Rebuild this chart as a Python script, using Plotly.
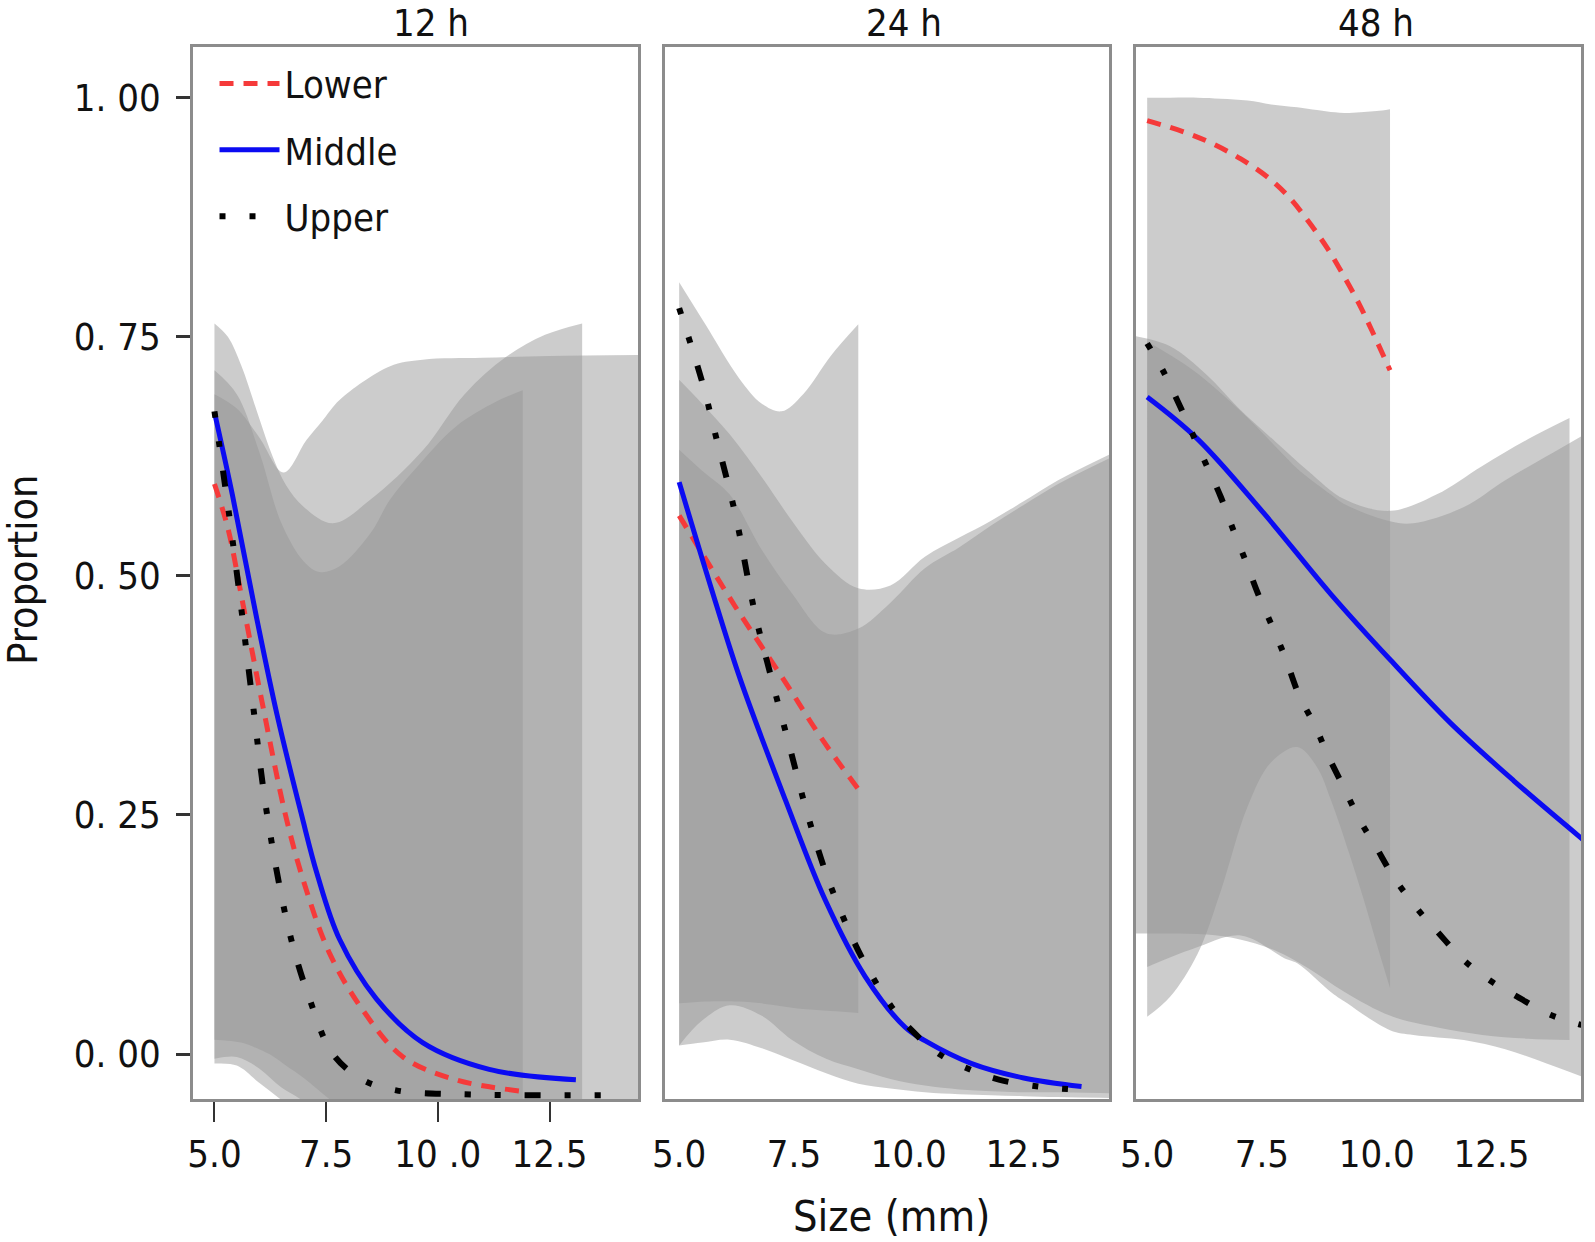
import plotly.graph_objects as go

FONT = "Liberation Sans Narrow, DejaVu Sans Condensed, Arial Narrow, sans-serif"

# ---------------- data ----------------
facets = ["12 h", "24 h", "48 h"]
groups = ["Lower", "Middle", "Upper"]

y_tickvals = [0.0, 0.25, 0.5, 0.75, 1.0]
y_ticktext = ["0. 00", "0. 25", "0. 50", "0. 75", "1. 00"]
x_tickvals = [5.0, 7.5, 10.0, 12.5]
x_ticktext_12h = ["5.0", "7.5", "10 .0", "12.5"]
x_ticktext_other = ["5.0", "7.5", "10.0", "12.5"]

# ---- 12 h: fitted lines ----
p1_lower_x = [5.0, 5.3, 5.64, 6.1, 6.59, 7.0, 7.58, 8.32, 9.22, 10.41, 11.9]
p1_lower_y = [0.596, 0.55, 0.47, 0.36, 0.25, 0.18, 0.105, 0.046, -0.003, -0.027, -0.039]
p1_middle_x = [5.0, 5.4, 5.94, 6.4, 6.95, 7.3, 7.8, 8.62, 9.66, 11.15, 13.09]
p1_middle_y = [0.671, 0.585, 0.457, 0.355, 0.25, 0.188, 0.12, 0.058, 0.012, -0.016, -0.027]
p1_upper_x = [5.0, 5.1, 5.34, 5.55, 5.85, 6.18, 6.68, 7.14, 7.65, 8.32, 9.07, 10.5, 13.7]
p1_upper_y = [0.672, 0.64, 0.56, 0.485, 0.37, 0.25, 0.127, 0.056, 0.0, -0.027, -0.038, -0.042, -0.043]

# ---- 12 h: confidence ribbons ----
p1_rib_lower_x = [5.0, 5.5, 6.0, 6.5, 7.0, 7.35, 7.8, 8.5, 8.92, 9.5, 10.4, 11.3, 11.9]
p1_rib_lower_hi = [0.715, 0.69, 0.63, 0.555, 0.515, 0.504, 0.51, 0.545, 0.579, 0.612, 0.656, 0.682, 0.694]
p1_rib_lower_lo = [-0.005, -0.003, -0.015, -0.035, -0.05, -0.07, -0.09, -0.1, -0.1, -0.1, -0.1, -0.1, -0.1]
p1_rib_middle_x = [5.0, 5.3, 5.6, 6.0, 6.3, 6.6, 7.0, 7.65, 8.5, 9.66, 10.6, 11.53, 12.4, 13.23]
p1_rib_middle_hi = [0.764, 0.75, 0.72, 0.665, 0.625, 0.595, 0.572, 0.555, 0.58, 0.631, 0.69, 0.729, 0.752, 0.764]
p1_rib_middle_lo = [0.015, 0.014, 0.012, 0.005, -0.002, -0.012, -0.025, -0.05, -0.08, -0.1, -0.1, -0.1, -0.1, -0.1]
p1_rib_upper_x = [5.0, 5.5, 6.0, 6.55, 7.06, 7.43, 7.8, 8.92, 9.66, 11.0, 12.5, 14.6]
p1_rib_upper_hi = [0.69, 0.675, 0.645, 0.608, 0.642, 0.663, 0.684, 0.719, 0.726, 0.728, 0.73, 0.731]
p1_rib_upper_lo = [-0.01, -0.012, -0.03, -0.05, -0.07, -0.09, -0.1, -0.1, -0.1, -0.1, -0.1, -0.1]

# ---- 24 h: fitted lines ----
p2_lower_x = [5.0, 6.22, 7.31, 8.1, 8.9]
p2_lower_y = [0.563, 0.468, 0.389, 0.33, 0.277]
p2_middle_x = [5.0, 5.68, 6.33, 7.31, 8.18, 9.05, 9.92, 10.35, 11.37, 12.5, 13.76]
p2_middle_y = [0.598, 0.49, 0.392, 0.266, 0.161, 0.081, 0.028, 0.014, -0.01, -0.025, -0.034]
p2_upper_x = [5.0, 5.5, 5.82, 6.22, 6.65, 7.02, 7.39, 7.81, 8.25, 8.81, 9.19, 9.63,
              10.06, 10.64, 11.37, 11.98, 12.82, 13.6]
p2_upper_y = [0.78, 0.703, 0.642, 0.565, 0.461, 0.391, 0.324, 0.248, 0.182, 0.117, 0.0825, 0.049,
              0.025, 0.0006, -0.017, -0.027, -0.034, -0.037]

# ---- 24 h: confidence ribbons ----
p2_rib_lower_x = [5.0, 5.57, 6.3, 6.8, 7.23, 7.7, 8.3, 8.9]
p2_rib_lower_hi = [0.807, 0.763, 0.707, 0.68, 0.672, 0.69, 0.73, 0.763]
p2_rib_lower_lo = [0.053, 0.055, 0.055, 0.053, 0.05, 0.047, 0.045, 0.043]
p2_rib_middle_x = [5.0, 5.5, 6.1, 6.8, 7.45, 8.2, 8.9, 9.6, 10.35, 11.1, 11.8, 12.5, 13.25, 14.5]
p2_rib_middle_hi = [0.705, 0.68, 0.648, 0.603, 0.558, 0.512, 0.487, 0.49, 0.52, 0.54, 0.558, 0.578, 0.6, 0.63]
p2_rib_middle_lo = [0.009, 0.035, 0.051, 0.04, 0.015, -0.005, -0.016, -0.026, -0.033, -0.037, -0.039, -0.04, -0.04, -0.041]
p2_rib_upper_x = [5.0, 5.5, 6.1, 6.8, 7.45, 8.2, 8.9, 9.6, 10.35, 11.1, 11.8, 12.5, 13.25, 14.5]
p2_rib_upper_hi = [0.632, 0.61, 0.585, 0.527, 0.482, 0.44, 0.445, 0.472, 0.508, 0.53, 0.553, 0.574, 0.596, 0.626]
p2_rib_upper_lo = [0.009, 0.012, 0.015, 0.006, -0.006, -0.02, -0.031, -0.036, -0.04, -0.042, -0.043, -0.044, -0.045, -0.046]

# ---- 48 h: fitted lines ----
p3_lower_x = [5.0, 5.81, 6.42, 7.04, 7.62, 8.09, 8.49, 8.92, 9.29, 9.61, 9.9, 10.29]
p3_lower_y = [0.976, 0.964, 0.952, 0.936, 0.917, 0.896, 0.872, 0.843, 0.813, 0.785, 0.756, 0.715]
p3_middle_x = [5.0, 6.1, 7.55, 9.0, 10.3, 11.61, 12.98, 14.5]
p3_middle_y = [0.687, 0.643, 0.565, 0.481, 0.412, 0.346, 0.286, 0.224]
p3_upper_x = [5.0, 5.34, 5.7, 6.02, 6.28, 6.6, 6.9, 7.15, 7.4, 7.77, 8.02, 8.31, 8.67, 8.92,
              9.29, 9.65, 9.98, 10.37, 10.88, 11.32, 11.9, 12.51, 13.06, 13.78, 14.5]
p3_upper_y = [0.743, 0.715, 0.679, 0.645, 0.617, 0.583, 0.545, 0.515, 0.483, 0.442, 0.413, 0.375, 0.342, 0.314,
              0.278, 0.243, 0.217, 0.185, 0.152, 0.128, 0.098, 0.0755, 0.06, 0.041, 0.03]

# ---- 48 h: confidence ribbons ----
p3_rib_lower_x = [5.0, 5.5, 6.1, 6.6, 7.19, 7.7, 8.27, 8.7, 9.0, 9.4, 9.72, 10.0, 10.29]
p3_rib_lower_hi = [1.0, 1.0, 1.0, 0.999, 0.997, 0.993, 0.99, 0.987, 0.985, 0.984, 0.985, 0.986, 0.988]
p3_rib_lower_lo = [0.039, 0.06, 0.105, 0.17, 0.259, 0.305, 0.321, 0.30, 0.266, 0.21, 0.161, 0.115, 0.069]
p3_rib_middle_x = [4.7, 5.5, 6.3, 7.0, 7.8, 8.5, 9.3, 10.3, 11.3, 12.3, 13.3, 14.2]
p3_rib_middle_hi = [0.751, 0.74, 0.71, 0.675, 0.64, 0.61, 0.58, 0.568, 0.585, 0.615, 0.643, 0.665]
p3_rib_middle_lo = [0.126, 0.126, 0.125, 0.12, 0.108, 0.09, 0.065, 0.04, 0.028, 0.02, 0.016, 0.0146]
p3_rib_upper_x = [5.0, 6.0, 7.04, 8.0, 8.27, 9.0, 9.3, 10.29, 10.8, 11.9, 12.8, 13.7, 14.6]
p3_rib_upper_hi = [0.745, 0.715, 0.672, 0.625, 0.612, 0.585, 0.575, 0.557, 0.555, 0.572, 0.6, 0.625, 0.65]
p3_rib_upper_lo = [0.091, 0.11, 0.124, 0.10, 0.095, 0.065, 0.055, 0.025, 0.02, 0.0146, 0.005, -0.01, -0.026]

# x ranges of the three facets
x_range_12h = [4.52, 14.48]
x_range_24h = [4.69, 14.36]
x_range_48h = [4.757, 14.45]
y_range = [-0.047, 1.053]

# ---------------- styling ----------------
line_style = {
    "Lower": dict(color="#f53a3a", width=5, dash="14px,10px"),
    "Middle": dict(color="#0b0bf2", width=5, dash="solid"),
    "Upper": dict(color="#000000", width=6, dash="6px,24px,6px,24px,16px,24px"),
}
RIB_FILL = "rgba(151,151,151,0.49)"

panel_lines = [
    {"Lower": (p1_lower_x, p1_lower_y), "Middle": (p1_middle_x, p1_middle_y), "Upper": (p1_upper_x, p1_upper_y)},
    {"Lower": (p2_lower_x, p2_lower_y), "Middle": (p2_middle_x, p2_middle_y), "Upper": (p2_upper_x, p2_upper_y)},
    {"Lower": (p3_lower_x, p3_lower_y), "Middle": (p3_middle_x, p3_middle_y), "Upper": (p3_upper_x, p3_upper_y)},
]
panel_ribbons = [
    [(p1_rib_lower_x, p1_rib_lower_hi, p1_rib_lower_lo),
     (p1_rib_middle_x, p1_rib_middle_hi, p1_rib_middle_lo),
     (p1_rib_upper_x, p1_rib_upper_hi, p1_rib_upper_lo)],
    [(p2_rib_lower_x, p2_rib_lower_hi, p2_rib_lower_lo),
     (p2_rib_middle_x, p2_rib_middle_hi, p2_rib_middle_lo),
     (p2_rib_upper_x, p2_rib_upper_hi, p2_rib_upper_lo)],
    [(p3_rib_lower_x, p3_rib_lower_hi, p3_rib_lower_lo),
     (p3_rib_middle_x, p3_rib_middle_hi, p3_rib_middle_lo),
     (p3_rib_upper_x, p3_rib_upper_hi, p3_rib_upper_lo)],
]

fig = go.Figure()
axis_ids = [("x", "y"), ("x2", "y2"), ("x3", "y3")]

for p, (xa, ya) in enumerate(axis_ids):
    for rx, rhi, rlo in panel_ribbons[p]:
        fig.add_trace(go.Scatter(x=rx, y=rlo, mode="lines", line=dict(width=0, shape="spline"),
                                 xaxis=xa, yaxis=ya, showlegend=False, hoverinfo="skip"))
        fig.add_trace(go.Scatter(x=rx, y=rhi, mode="lines", line=dict(width=0, shape="spline"),
                                 fill="tonexty", fillcolor=RIB_FILL,
                                 xaxis=xa, yaxis=ya, showlegend=False, hoverinfo="skip"))
    for g in groups:
        lx, ly = panel_lines[p][g]
        st = line_style[g]
        fig.add_trace(go.Scatter(x=lx, y=ly, mode="lines", name=g,
                                 line=dict(color=st["color"], width=st["width"], dash=st["dash"],
                                           shape="spline"),
                                 xaxis=xa, yaxis=ya, showlegend=(p == 0), legendgroup=g))

domains = [[0.0, 0.3206], [0.3400, 0.6600], [0.6794, 1.0]]
x_ranges = [x_range_12h, x_range_24h, x_range_48h]
BORDER = "#8c8c8c"
tick_font = dict(family=FONT, size=38, color="#111")

layout = dict(
    width=1595, height=1242,
    margin=dict(l=193, r=11, t=47, b=143),
    paper_bgcolor="white", plot_bgcolor="white",
    font=dict(family=FONT, color="#111"),
    showlegend=True,
    legend=dict(x=0.0155, y=0.995, xanchor="left", yanchor="top", bgcolor="rgba(0,0,0,0)",
                font=dict(family=FONT, size=38, color="#111"), traceorder="grouped",
                tracegroupgap=14, itemwidth=60),
)
for i in range(3):
    sx = "" if i == 0 else str(i + 1)
    layout["xaxis" + sx] = dict(
        domain=domains[i], range=x_ranges[i], anchor="y" + sx,
        tickvals=x_tickvals, ticktext=(x_ticktext_12h if i == 0 else x_ticktext_other),
        ticks="outside", ticklen=20, tickwidth=2,
        tickcolor=("#333" if i == 0 else "rgba(0,0,0,0)"),
        tickfont=tick_font, showgrid=False, zeroline=False,
        showline=True, mirror=True, linecolor=BORDER, linewidth=2.5,
    )
    layout["yaxis" + sx] = dict(
        domain=[0, 1], range=y_range, anchor="x" + sx,
        tickvals=y_tickvals, ticktext=y_ticktext,
        ticks=("outside" if i == 0 else ""), ticklen=14, tickwidth=2.5, tickcolor="#333",
        showticklabels=(i == 0), tickfont=tick_font, ticklabelstandoff=8,
        showgrid=False, zeroline=False,
        showline=True, mirror=True, linecolor=BORDER, linewidth=2.5,
    )
fig.update_layout(**layout)

title_x = [0.1718, 0.5119, 0.8526]
for t, tx in zip(facets, title_x):
    fig.add_annotation(text=t, x=tx, y=1.0447, xref="paper", yref="paper", showarrow=False,
                       xanchor="center", yanchor="top", borderpad=0,
                       font=dict(family=FONT, size=38, color="#111"))
fig.add_annotation(text="Size (mm)", x=0.503, y=-0.111, xref="paper", yref="paper", showarrow=False,
                   xanchor="center", yanchor="middle", font=dict(family=FONT, size=43, color="#111"))
fig.add_annotation(text="Proportion", x=-0.1226, y=0.503, xref="paper", yref="paper", showarrow=False,
                   textangle=-90, xanchor="center", yanchor="middle", font=dict(family=FONT, size=41, color="#111"))

fig.write_html("out.html", config={"displayModeBar": False},
               post_script="document.body.style.margin='0px';")
